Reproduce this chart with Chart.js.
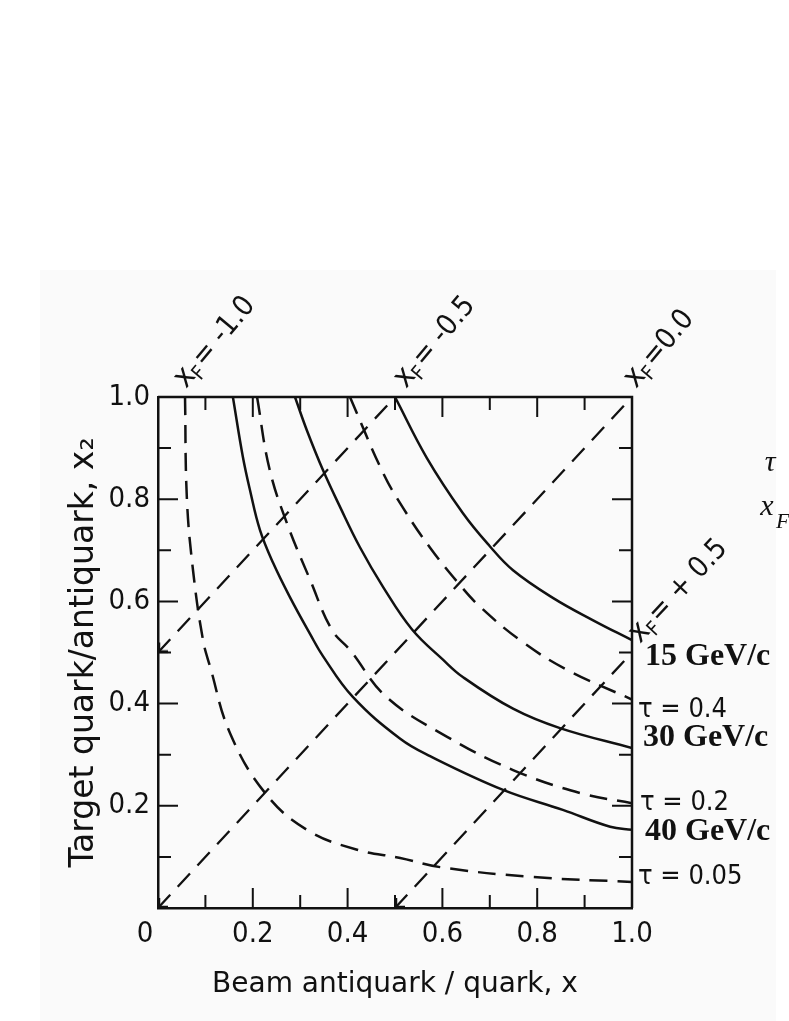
<!DOCTYPE html>
<html>
<head>
<meta charset="utf-8">
<script src="https://cdn.jsdelivr.net/npm/chart.js@4.4.1/dist/chart.umd.min.js"></script>
<style>
html, body { margin: 0; padding: 0; background: #fff; }
canvas { display: block; }
</style>
</head>
<body>
<canvas id="myChart" width="789" height="1021"></canvas>
<script>
// values (x = beam, x2 = target)
var tau005X = [0.057, 0.061, 0.074, 0.095, 0.110, 0.152, 0.226, 0.314, 0.420, 0.511, 0.595, 0.785, 1.0];
var tau005Y = [1.0, 0.80, 0.66, 0.524, 0.472, 0.342, 0.225, 0.153, 0.114, 0.098, 0.080, 0.061, 0.051];

var tau02X = [0.209, 0.235, 0.272, 0.321, 0.367, 0.405, 0.482, 0.610, 0.749, 0.890, 1.0];
var tau02Y = [1.0, 0.860, 0.753, 0.642, 0.544, 0.505, 0.413, 0.335, 0.270, 0.225, 0.205];

var tau04X = [0.405, 0.475, 0.517, 0.574, 0.637, 0.679, 0.764, 0.863, 1.0];
var tau04Y = [1.0, 0.851, 0.783, 0.705, 0.632, 0.590, 0.524, 0.466, 0.408];

var gev15X = [0.50, 0.567, 0.643, 0.700, 0.749, 0.833, 0.918, 1.0];
var gev15Y = [1.0, 0.881, 0.773, 0.708, 0.661, 0.607, 0.563, 0.524];

var gev30X = [0.289, 0.314, 0.348, 0.384, 0.426, 0.475, 0.536, 0.600, 0.643, 0.749, 0.848, 1.0];
var gev30Y = [1.0, 0.935, 0.857, 0.785, 0.706, 0.628, 0.545, 0.487, 0.452, 0.390, 0.352, 0.313];

var gev40X = [0.158, 0.179, 0.194, 0.215, 0.243, 0.278, 0.321, 0.348, 0.411, 0.511, 0.574, 0.728, 0.854, 0.954, 1.0];
var gev40Y = [1.0, 0.883, 0.818, 0.740, 0.675, 0.609, 0.536, 0.493, 0.413, 0.331, 0.297, 0.231, 0.192, 0.159, 0.153];

// x_F = x - x2 lines
var xfZeroX = [0, 1];
var xfZeroY = [0, 1];
var xfMinusX = [0, 0.5];
var xfMinusY = [0.5, 1];
var xfPlusX = [0.5, 1];
var xfPlusY = [0, 0.5];

var tickVals = [0.1, 0.2, 0.3, 0.4, 0.5, 0.6, 0.7, 0.8, 0.9];
var tauLabels = ['\u03c4 = 0.4', '\u03c4 = 0.2', '\u03c4 = 0.05'];
var momLabels = ['15 GeV/c', '30 GeV/c', '40 GeV/c'];

var din = '"DejaVu Sans Condensed", "DejaVu Sans", sans-serif';
var wide = '"DejaVu Sans", sans-serif';
var ink = '#111';

function pts(xs, ys) {
    return xs.map(function (x, i) { return { x: x, y: ys[i] }; });
}

// open arrow head, tip in the middle of the little canvas
var arrow = document.createElement('canvas');
arrow.width = 26;
arrow.height = 26;
(function () {
    var c = arrow.getContext('2d');
    c.strokeStyle = ink;
    c.lineWidth = 2.5;
    c.beginPath();
    c.moveTo(14, 3);
    c.lineTo(14, 12);
    c.lineTo(23, 12);
    c.stroke();
})();

function curve(xs, ys, dashed) {
    return {
        data: pts(xs, ys),
        showLine: true,
        borderColor: ink,
        borderWidth: 2.5,
        borderDash: dashed ? [18, 10] : [],
        tension: 0.4,
        pointRadius: 0
    };
}

function xfLine(xs, ys) {
    return {
        data: pts(xs, ys),
        showLine: true,
        borderColor: ink,
        borderWidth: 2.3,
        borderDash: [18, 11],
        pointStyle: arrow,
        pointRadius: function (ctx) { return ctx.dataIndex === 0 ? 6 : 0; },
        clip: false
    };
}

function drawXF(ctx, x, y, angle, rest) {
    ctx.save();
    ctx.translate(x, y);
    ctx.rotate(angle * Math.PI / 180);
    ctx.fillStyle = ink;
    ctx.textBaseline = 'alphabetic';
    ctx.textAlign = 'left';
    ctx.font = '31px ' + din;
    ctx.fillText('x', 0, 0);
    var w = ctx.measureText('x').width;
    ctx.font = '20px ' + din;
    ctx.fillText('F', w - 1, 6);
    var wf = ctx.measureText('F').width;
    ctx.font = '29px ' + din;
    ctx.fillText(rest, w + wf + 1, 0);
    ctx.restore();
}

var frame = {
    id: 'frame',
    beforeDraw: function (chart) {
        var ctx = chart.ctx;
        ctx.save();
        ctx.fillStyle = '#ffffff';
        ctx.fillRect(0, 0, chart.width, chart.height);
        ctx.fillStyle = '#fafafa';
        ctx.fillRect(40, 270, 736, chart.height - 270);
        ctx.restore();
    },
    afterDatasetsDraw: function (chart) {
        var ctx = chart.ctx;
        var a = chart.chartArea;
        var sx = chart.scales.x, sy = chart.scales.y;
        ctx.save();
        ctx.strokeStyle = ink;
        ctx.lineWidth = 2.5;
        // top and right edges of the box
        ctx.beginPath();
        ctx.moveTo(a.left, a.top);
        ctx.lineTo(a.right, a.top);
        ctx.lineTo(a.right, a.bottom);
        ctx.stroke();
        // inward ticks on all four sides
        ctx.lineWidth = 2;
        tickVals.forEach(function (v, i) {
            var len = (i % 2 === 1) ? 20 : 13;
            var px = sx.getPixelForValue(v);
            var py = sy.getPixelForValue(v);
            ctx.beginPath();
            ctx.moveTo(px, a.bottom); ctx.lineTo(px, a.bottom - len);
            ctx.moveTo(px, a.top); ctx.lineTo(px, a.top + len);
            ctx.moveTo(a.left, py); ctx.lineTo(a.left + len, py);
            ctx.moveTo(a.right, py); ctx.lineTo(a.right - len, py);
            ctx.stroke();
        });

        // x_F labels
        drawXF(ctx, 186, 389, -50, '= -1.0');
        drawXF(ctx, 406, 389, -50, '= -0.5');
        drawXF(ctx, 636, 389, -50, '=0.0');
        drawXF(ctx, 640, 644, -47, '= + 0.5');

        // tau labels on the right
        ctx.fillStyle = ink;
        ctx.textAlign = 'left';
        ctx.textBaseline = 'middle';
        ctx.font = '27px ' + din;
        ctx.fillText(tauLabels[0], a.right + 6, 710);
        ctx.fillText(tauLabels[1], a.right + 8, 803);
        ctx.fillText(tauLabels[2], a.right + 6, 877);

        // beam momenta
        ctx.font = 'bold 32px "Liberation Serif", "Times New Roman", serif';
        ctx.fillText(momLabels[0], a.right + 13, 657);
        ctx.fillText(momLabels[1], a.right + 11, 738);
        ctx.fillText(momLabels[2], a.right + 13, 832);

        // cut-off legend symbols at the page edge
        ctx.font = 'italic 30px "Liberation Serif", serif';
        ctx.textAlign = 'center';
        ctx.fillText('\u03c4', 770, 463);
        ctx.fillText('x', 767, 507);
        ctx.font = 'italic 22px "Liberation Serif", serif';
        ctx.textAlign = 'left';
        ctx.fillText('F', 776, 522);
        ctx.restore();
    }
};

var myChart = new Chart('myChart', {
    type: 'scatter',
    data: {
        datasets: [
            curve(tau005X, tau005Y, true),
            curve(tau02X, tau02Y, true),
            curve(tau04X, tau04Y, true),
            curve(gev15X, gev15Y, false),
            curve(gev30X, gev30Y, false),
            curve(gev40X, gev40Y, false),
            xfLine(xfZeroX, xfZeroY),
            xfLine(xfMinusX, xfMinusY),
            xfLine(xfPlusX, xfPlusY)
        ]
    },
    options: {
        responsive: false,
        animation: false,
        devicePixelRatio: 1,
        layout: { padding: { top: 397, right: 157, left: 0, bottom: 0 } },
        plugins: { legend: { display: false }, tooltip: { enabled: false } },
        scales: {
            x: {
                type: 'linear',
                min: 0,
                max: 1,
                afterFit: function (s) { s.height = 113; },
                grid: { display: false, drawTicks: false },
                border: { display: true, color: ink, width: 2.5 },
                ticks: {
                    stepSize: 0.2,
                    padding: 9,
                    color: ink,
                    maxRotation: 0,
                    autoSkip: false,
                    font: { family: din, size: 29 },
                    callback: function (v) { return v === 0 ? '0\u2003' : v.toFixed(1); }
                },
                title: {
                    display: true,
                    text: 'Beam antiquark / quark, x',
                    color: ink,
                    font: { family: wide, size: 28 },
                    padding: { top: 0, bottom: 19 }
                }
            },
            y: {
                type: 'linear',
                min: 0,
                max: 1,
                afterFit: function (s) { s.width = 158; },
                grid: { display: false, drawTicks: false },
                border: { display: true, color: ink, width: 2.5 },
                ticks: {
                    stepSize: 0.2,
                    padding: 8,
                    color: ink,
                    font: { family: din, size: 29 },
                    callback: function (v) { return v === 0 ? '' : v.toFixed(1); }
                },
                title: {
                    display: true,
                    text: 'Target quark/antiquark, x\u2082',
                    color: ink,
                    font: { family: wide, size: 33 },
                    padding: { top: 65, bottom: 0 }
                }
            }
        }
    },
    plugins: [frame]
});
</script>
</body>
</html>
